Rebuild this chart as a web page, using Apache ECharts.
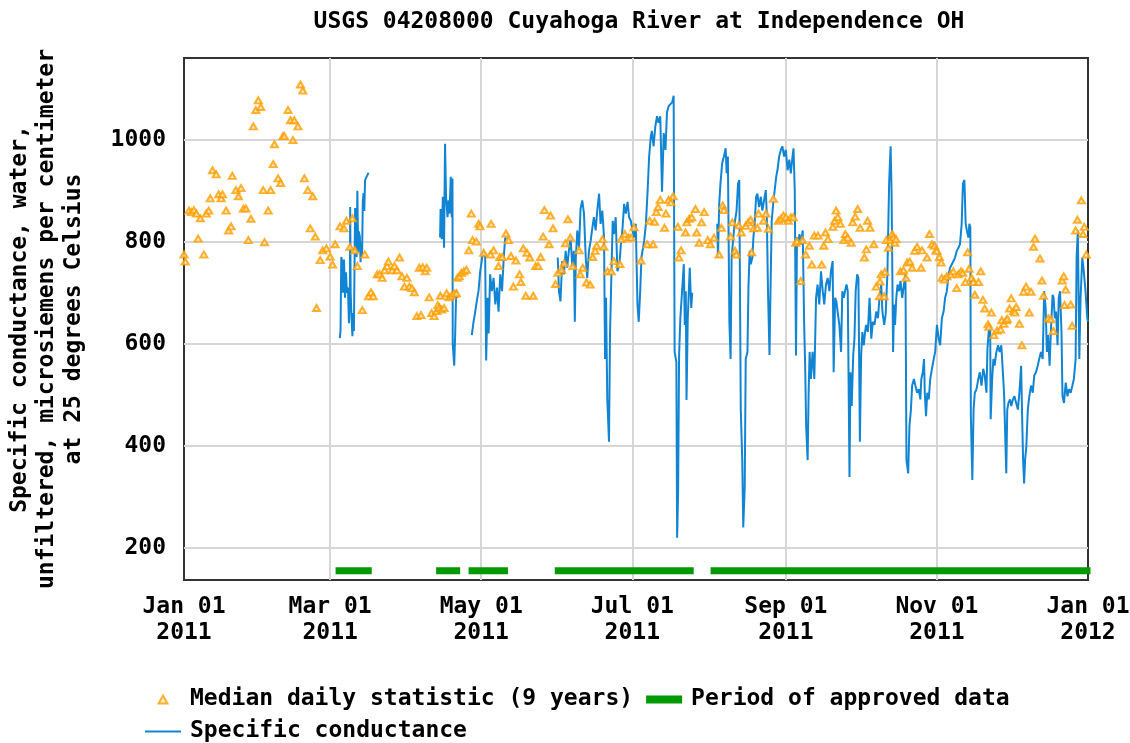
<!DOCTYPE html>
<html>
<head>
<meta charset="utf-8">
<script src="https://cdn.jsdelivr.net/npm/echarts@6.0.0/dist/echarts.min.js"></script>
<style>
  html,body{margin:0;padding:0;background:#fff;}
  #chart{width:1130px;height:743px;}
</style>
</head>
<body>
<div id="chart"></div>
<script>
// day of year 2011 (0 = Jan 01) -> value

const tickDays = [0, 59, 120, 181, 243, 304, 365]
const tickLabels = ['Jan 01\n2011', 'Mar 01\n2011', 'May 01\n2011', 'Jul 01\n2011', 'Sep 01\n2011', 'Nov 01\n2011', 'Jan 01\n2012']
const yTicks = [200, 400, 600, 800, 1000]

// median daily statistic (9 years)
const medianDaily = [
  [0,775],[0.5,761],[2,861],[3,858],[4,862],[5,855],[5.7,806],[6.6,846],[8,775],[9,855],[10,861],[10.6,885],
  [11.5,940],[13,932],[14,893],[15,885],[15.5,893],[17,861],[18,822],[19,830],[19.5,929],[21,901],[22,889],
  [23,905],[24,865],[25,865],[26,803],[27,845],[28,1026],[29,1058],[30,1077],[31,1064],[32,901],[32.5,799],
  [34,861],[35,901],[36,952],[36.5,991],[38,924],[39,915],[40,1007],[40.5,1007],[42,1058],[43,1038],[44,999],
  [44.5,1038],[46,1026],[47,1108],[48,1096],[48.6,924],[50,901],[51,826],[52,889],[53,810],[53.5,670],[55,764],
  [56,783],[57.5,787],[59,771],[60,755],[61,795],[63,830],[64.6,826],[65.6,841],[67,790],[68,846],[69,783],
  [70,752],[72,666],[73,775],[74.5,693],[75.5,701],[76.4,693],[78,736],[79,736],[80,729],[81,744],[82,752],
  [82.5,761],[84,744],[85,752],[86,744],[87,769],[88,732],[89,712],[90,729],[91,712],[92,709],[93,701],[94,654],
  [95,749],[95.7,656],[96.4,750],[97.4,742],[98,749],[99,691],[100,660],[101,654],[102,664],[102.5,676],[103,670],
  [103.5,694],[104,667],[105,670],[106,699],[107,691],[108,694],[109,699],[110,699],[110.4,729],[111.2,732],
  [112,739],[113,742],[114,745],[115,783],[116,855],[116.5,803],[118,800],[119,835],[119.5,830],[121,778],
  [123.7,775],[124,835],[125,783],[127,752],[127.5,770],[128.5,770],[130,816],[131,803],[132,772],[133,712],
  [134,763],[135.5,736],[136,721],[137,787],[138,694],[138.5,778],[139.6,769],[141,694],[142,752],[143,752],
  [144,770],[145,810],[145.5,862],[147.4,795],[148,851],[149,826],[150,717],[151,739],[152.5,745],[153.5,758],
  [154,797],[155,844],[156,808],[157,752],[159.5,783],[160,736],[161,749],[162.5,720],[164,716],[165,770],
  [166,782],[166.6,792],[169,805],[169.5,790],[171,742],[172.5,742],[173.6,762],[176,756],[176.5,805],[178,815],
  [179.5,808],[180.5,808],[181.7,828],[184.5,763],[187,795],[188,841],
  [189.4,795],[190,839],[190.7,858],[191.4,868],[192.3,882],[194,827],[194.6,855],[195.7,882],[196.6,877],
  [197.5,889],[199.4,829],[199.8,769],[200.7,783],[202.5,818],[203,838],[204,845],[205,848],[206.5,864],
  [207,818],[208,798],[209,838],[210,858],[211.5,803],[212.5,795],[214,808],[216,775],[217,827],[217.5,871],
  [218,862],[220.7,810],[221.4,838],[222.5,782],[223,775],[224,832],[225,818],[226.8,831],[227.8,838],
  [228.8,843],[229.2,779],[230,826],[231.5,827],[232,855],[234,841],[235,855],[236,825],[238,884],[240,841],
  [241,845],[242,851],[243,848],[244,841],[245,848],[246,848],[247,798],[247.5,801],[249,723],[249.7,803],
  [251,775],[252.5,792],[253.5,755],[254.5,812],[256,812],[257.5,755],[258.3,792],[259,818],[260,805],[262,829],
  [262.7,841],[263.3,861],[264,848],[265,835],[266.4,803],[267,815],[268,808],[269.4,798],[270,838],[271,849],
  [272,864],[273,827],[274.7,769],[275.5,785],[276,841],[277,827],[278.5,795],[279.5,712],[280.8,693],[281,722],
  [281.5,736],[282.7,693],[283,741],[283.6,803],[284.4,788],[285,803],[286,815],[286.5,808],[287,798],[287.5,805],
  [289.3,742],[290.5,744],[291.5,729],[292,759],[293,761],[294,749],[295,782],[296,790],[297.6,749],[298,783],
  [300,769],[301,815],[302,795],[303,792],[303.7,783],[304,782],[305,770],[305.7,759],[306,729],[307,726],
  [308,732],[309.5,736],[310.6,742],[312,709],[312.7,736],[313.7,742],[314.4,739],[315.5,721],[316.4,779],
  [317,747],[318,729],[318.7,721],[319.3,696],[320.8,721],[321.7,742],[322.6,686],[323.3,669],[324.6,638],
  [325,633],[326,661],[327,617],[328.3,626],[329.7,628],[330.2,646],[331,639],[332,646],[332.4,649],[333.3,669],
  [334,689],[335,664],[335.5,661],[336,672],[337.3,639],[338.3,597],[339,702],[340,712],[341.3,661],[342,702],
  [343,790],[343.6,806],[345.6,767],[346.4,724],[347,694],[349,650],[350,648],[351,625],[354.6,724],[355.2,732],
  [355.5,676],[356,706],[358,677],[358.6,635],[360,822],[360.7,843],[362.3,881],[363,815],[363.5,829],[364.3,775]
]

// specific conductance, one array per stretch of record
const condMar = [
  [62.9,611],[63.2,625],[63.5,770],[63.9,760],[64.2,700],[64.6,765],[65.0,690],[65.4,740],[65.8,700],[66.2,710],
  [66.6,640],[67.0,720],[67.1,868],[67.3,700],[67.6,655],[68.0,615],[68.3,660],[68.6,625],[68.9,780],[69.1,866],
  [69.4,800],[69.7,770],[70.0,900],[70.3,780],[70.6,820],[71.0,810],[71.3,760],[71.6,800],[71.9,770],[72.2,880],
  [72.5,895],[72.8,860],[73.1,920],[73.5,925],[74.0,930],[74.5,935]
]
const condApr = [
  [103.4,808],[103.6,864],[104.1,805],[104.5,888],[105.0,788],[105.4,992],[105.8,888],[106.4,848],[106.8,881],
  [107.2,855],[107.7,927],[108.1,848],[108.4,924],[108.5,600],[109.1,557],[109.5,620],[109.9,705],[110.4,690]
]
const condMay = [
  [116.2,617],[116.9,643],[117.6,663],[118.2,683],[118.9,703],[119.6,742],[120.4,769],[120.9,782],[121.6,769],
  [122.0,567],[122.6,690],[123.0,620],[123.6,736],[124.3,703],[125.0,729],[125.7,677],[126.4,710],[127.0,663],
  [127.7,736],[128.4,703],[129.1,769],[129.7,808],[130.1,805]
]
const condSummer = [
  [150.9,769],[151.4,703],[152.0,683],[152.7,762],[153.4,736],[154.1,782],[154.7,749],[155.4,782],[156.1,808],
  [156.8,749],[157.4,782],[157.8,643],[158.2,769],[158.8,822],[159.5,788],[160.1,864],[160.8,881],[161.5,855],
  [162.2,769],[162.8,729],[163.5,782],[164.2,802],[164.9,828],[165.5,848],[166.2,822],[166.9,864],[167.6,894],
  [168.2,835],[168.9,861],[169.6,808],[170.0,570],[170.4,690],[170.9,491],[171.6,408],[172.0,617],[172.6,742],
  [173.1,841],[173.6,815],[174.3,848],[175.0,742],[175.8,756],[176.4,795],[177.0,822],[177.7,874],[178.4,855],
  [179.1,878],[179.7,848],[180.4,841],[181.1,822],[181.8,808],[182.4,835],[183.1,676],[183.6,643],[184.2,703],
  [184.7,769],[185.8,802],[186.5,835],[187.2,901],[187.8,967],[188.5,1007],[188.9,1017],[189.6,987],[190.3,1026],
  [191.0,1046],[191.6,1033],[192.3,1046],[193.0,898],[193.7,1013],[194.4,980],[195.0,1053],[195.7,1066],
  [196.4,1063],[197.1,1073],[197.7,1086],[198.1,584],[198.8,564],[199.1,220],[199.5,306],[199.9,577],[200.4,650],
  [201.1,703],[201.8,756],[202.2,637],[202.6,703],[202.9,490],[203.4,650],[204.2,749],[204.8,670],[205.2,700]
]
const condFall = [
  [215.3,835],[215.6,769],[216.1,874],[216.6,914],[217.3,954],[218.0,967],[218.7,983],[219.1,934],[219.6,967],
  [220.2,643],[220.7,570],[221.1,769],[221.8,808],[222.3,835],[223.1,861],[223.7,914],[224.2,921],[224.8,471],
  [225.4,372],[225.8,240],[226.4,320],[226.8,570],[227.5,584],[227.9,710],[228.4,782],[228.8,756],[229.5,769],
  [229.9,808],[230.4,835],[231.0,888],[231.5,894],[232.2,868],[232.9,888],[233.5,861],[234.2,881],[234.9,901],
  [235.3,855],[235.8,703],[236.4,578],[236.8,703],[237.3,841],[238.0,881],[238.5,901],[239.1,927],[239.6,940],
  [240.3,967],[241.0,980],[241.6,987],[242.3,967],[243.0,980],[243.7,940],[244.4,961],[245.0,934],[245.7,967],
  [246.1,983],[246.6,901],[247.1,577],[247.5,808],[248.0,795],[248.5,815],[249.1,795],[249.8,822],[250.4,637],
  [250.8,557],[251.2,438],[251.8,372],[252.2,504],[252.6,584],[253.1,531],[253.8,584],[254.5,531],[255.2,690],
  [255.8,716],[256.5,677],[257.2,742],[257.9,703],[258.5,677],[259.2,716],[259.9,729],[260.6,703],[261.2,742],
  [261.9,762],[262.3,544],[262.9,690],[263.4,683],[263.9,663],[264.6,637],[265.3,584],[265.8,703],[266.4,690],
  [266.9,703],[267.5,716],[268.0,703],[268.7,339],[269.1,544],[269.6,478],[270.2,577],[270.7,610],[271.2,703],
  [271.8,736],[272.3,729],[272.9,408],[273.4,577],[273.9,623],[274.5,597],[275.0,623],[275.4,637],[276.1,623],
  [276.8,690],[277.5,610],[278.1,643],[278.8,637],[279.5,663],[280.2,650],[280.8,690],[281.5,716],[282.0,663],
  [282.7,637],[283.3,657],[284.0,736],[284.7,914],[285.3,987],[285.7,894],[286.3,584],[286.7,677],[287.1,637],
  [287.6,690],[288.1,716],[288.7,703],[289.3,723],[290.0,690],[290.7,716],[291.3,736],[291.7,372],[292.4,346],
  [292.9,438],[293.5,471],[294.0,518],[294.7,531],[295.3,518],[296.0,504],[296.7,511],[297.3,491],[297.7,531],
  [298.3,544],[298.8,570],[299.1,504],[299.6,458],[300.1,504],[300.7,491],[301.3,531],[302.0,551],[302.7,570],
  [303.3,584],[304.0,637],[304.7,610],[305.3,597],[306.0,650],[306.7,663],[307.3,690],[308.0,703],[308.7,736],
  [309.3,749],[310.0,749],[310.7,762],[311.3,769],[312.0,782],[312.7,788],[313.3,795],[314.0,835],[314.5,914],
  [315.1,921],[315.6,835],[316.1,822],[316.7,808],[317.1,835],[317.5,828],[317.7,458],[318.3,333],[318.8,471],
  [319.3,504],[320.0,511],[320.7,531],[321.3,544],[322.0,518],[322.7,551],[323.3,538],[324.0,504],[324.4,590],
  [324.9,623],[325.5,637],[325.7,452],[326.3,531],[326.8,570],[327.3,557],[328.0,584],[328.7,597],[329.3,584],
  [330.0,597],[330.7,597],[331.1,504],[331.6,504],[332.0,346],[332.4,471],[332.9,484],[333.5,491],[334.0,478],
  [334.7,491],[335.3,497],[336.0,484],[336.7,471],[337.3,504],[338.0,557],[338.4,458],[338.8,372],[339.2,326],
  [339.6,372],[340.1,399],[340.7,471],[341.3,497],[342.0,518],[342.7,504],[343.3,538],[344.0,544],[344.7,557],
  [345.3,570],[346.0,584],[346.7,570],[347.3,703],[347.9,670],[348.4,584],[348.9,617],[349.5,557],[350.0,623],
  [350.7,696],[351.1,690],[351.6,650],[352.1,663],[352.7,597],[353.2,690],[353.7,703],[354.3,623],[354.7,497],
  [355.3,484],[356.0,524],[356.7,497],[357.3,511],[358.0,504],[358.7,518],[359.3,531],[360.0,570],[360.4,769],
  [360.9,822],[361.5,570],[362.0,690],[362.7,769],[363.3,742],[364.0,703],[364.7,650],[365.0,643]
]

// periods of approved data (start day, end day)
const approvedFrom = [61.2, 101.8, 114.9, 149.7, 212.6]
const approvedTo = [75.8, 111.5, 130.8, 205.8, 366]

const gap = ['-', '-']
const conductance = [].concat(condMar, [gap], condApr, [gap], condMay, [gap], condSummer, [gap], condFall)

const barLevel = 155
const approved = []
approvedFrom.forEach((d, i) => {
  approved.push([d, barLevel], [approvedTo[i], barLevel], gap)
})

const FONT = 'DejaVu Sans Mono'
const txt = { fontFamily: FONT, fontWeight: 'bold', fontSize: 23, color: '#000' }
const blue = '#1185d3'

const myChart = echarts.init(document.getElementById('chart'), null, { renderer: 'canvas' })
myChart.setOption({
  animation: false,
  backgroundColor: '#fff',
  title: {
    text: 'USGS 04208000 Cuyahoga River at Independence OH',
    left: 634,
    textAlign: 'center',
    top: 6,
    textStyle: Object.assign({}, txt)
  },
  grid: {
    left: 184,
    right: 42,
    top: 58,
    bottom: 163,
    outerBoundsMode: 'none',
    show: true,
    borderColor: '#333',
    borderWidth: 2
  },
  legend: {
    left: 140,
    top: 683,
    width: 900,
    itemWidth: 36,
    itemHeight: 8,
    itemGap: 9,
    textStyle: Object.assign({}, txt, { padding: [0, 4, 0, 4], lineHeight: 23 }),
    data: [
      { name: 'Median daily statistic (9 years)', icon: 'path://M5,0L10,9L0,9Z' },
      { name: 'Period of approved data', icon: 'rect' },
      { name: 'Specific conductance', icon: 'path://M0,0L36,0L36,2L0,2Z' }
    ]
  },
  xAxis: {
    type: 'value',
    min: 0,
    max: 365,
    axisLine: { show: false },
    axisTick: { show: false, customValues: tickDays },
    splitLine: { show: true, showMinLine: false, showMaxLine: false, lineStyle: { color: '#d6d6d6', width: 2 } },
    axisLabel: Object.assign({}, txt, {
      customValues: tickDays,
      margin: 14,
      lineHeight: 26,
      formatter: v => tickLabels[tickDays.indexOf(v)]
    })
  },
  yAxis: {
    type: 'value',
    min: 137,
    max: 1160,
    name: 'Specific conductance, water,\nunfiltered, microsiemens per centimeter\nat 25 degrees Celsius',
    nameLocation: 'middle',
    nameGap: 96,
    nameRotate: 90,
    nameTextStyle: Object.assign({}, txt, { lineHeight: 27 }),
    axisLine: { show: false },
    axisTick: { show: false, customValues: yTicks },
    splitLine: { show: true, lineStyle: { color: '#d6d6d6', width: 2 } },
    axisLabel: Object.assign({}, txt, { customValues: yTicks, margin: 18, formatter: v => String(v) })
  },
  series: [
    {
      name: 'Specific conductance',
      type: 'line',
      data: conductance,
      symbol: 'none',
      connectNulls: false,
      lineStyle: { color: blue, width: 2 },
      itemStyle: { color: blue },
      z: 3
    },
    {
      name: 'Period of approved data',
      type: 'line',
      data: approved,
      symbol: 'none',
      connectNulls: false,
      lineStyle: { color: '#009900', width: 7, cap: 'butt' },
      itemStyle: { color: '#009900' },
      z: 2
    },
    {
      name: 'Median daily statistic (9 years)',
      type: 'scatter',
      data: medianDaily,
      symbol: 'triangle',
      symbolSize: [7, 6],
      itemStyle: { color: '#ffe6b8', borderColor: '#ff9d00', borderWidth: 2 },
      z: 4
    }
  ]
})
</script>
</body>
</html>
